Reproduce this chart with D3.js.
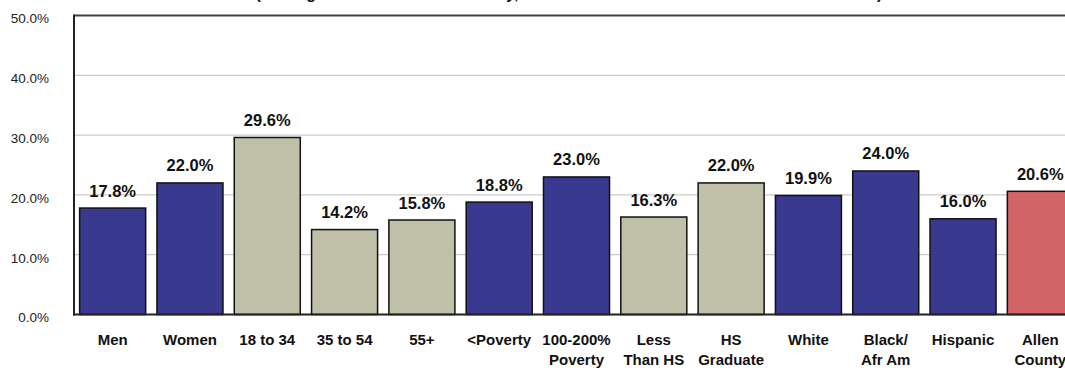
<!DOCTYPE html>
<html>
<head>
<meta charset="utf-8">
<script src="https://cdn.jsdelivr.net/npm/d3@7"></script>
<style>
  html, body { margin: 0; padding: 0; background: #fff; overflow: hidden; }
  svg { display: block; font-family: Arial, "Liberation Sans", sans-serif; }
</style>
</head>
<body>
<svg id="chart" width="1065" height="368"></svg>
<script>
// ---- Data ----
const categories = [
  ["Men"], ["Women"], ["18 to 34"], ["35 to 54"], ["55+"], ["<Poverty"],
  ["100-200%", "Poverty"], ["Less", "Than HS"], ["HS", "Graduate"], ["White"],
  ["Black/", "Afr Am"], ["Hispanic"], ["Allen", "County"]
];
const values = [17.8, 22.0, 29.6, 14.2, 15.8, 18.8, 23.0, 16.3, 22.0, 19.9, 24.0, 16.0, 20.6];
const groups = ["blue", "blue", "tan", "tan", "tan", "blue", "blue", "tan", "tan", "blue", "blue", "blue", "red"];
const yTicks = [0, 10, 20, 30, 40, 50];
const titleText = "(Among All Adults in Allen County, Based on the 2013 Health Assessment Results)";

const colors = { blue: "#393990", tan: "#C0C0A8", red: "#D26466" };

// ---- Layout ----
const svg = d3.select("#chart");
const keys = categories.map(c => c.join(" "));

const x = d3.scaleBand()
  .domain(keys)
  .range([74, 1079])
  .paddingInner(0.146)
  .paddingOuter(0.073);

const y = d3.scaleLinear().domain([0, 50]).range([314.5, 15.5]);

// Title (mostly clipped at the top edge, as in the reference)
svg.append("text")
  .attr("x", 569).attr("y", -1.5)
  .attr("text-anchor", "middle")
  .attr("font-size", 16).attr("font-weight", "bold")
  .attr("fill", "#111")
  .text(titleText);

// Gridlines
svg.append("g")
  .selectAll("line")
  .data(yTicks.filter(t => t > 0 && t < 50))
  .join("line")
  .attr("x1", 74).attr("x2", 1065)
  .attr("y1", d => y(d)).attr("y2", d => y(d))
  .attr("stroke", "#BFBFBF").attr("stroke-width", 1);

// Top border
svg.append("line")
  .attr("x1", 74).attr("x2", 1065)
  .attr("y1", y(50)).attr("y2", y(50))
  .attr("stroke", "#404040").attr("stroke-width", 2);

// Y axis labels
const yAxis = d3.axisLeft(y).tickValues(yTicks)
  .tickFormat(d => d.toFixed(1) + "%").tickSize(0).tickPadding(25);
const ya = svg.append("g").attr("transform", "translate(74,0)").call(yAxis);
ya.select(".domain").remove();
ya.selectAll("text")
  .attr("font-family", "Arial, 'Liberation Sans', sans-serif")
  .attr("font-size", 13.5).attr("fill", "#222")
  .attr("dy", "0.55em");

// Bars
svg.append("g")
  .selectAll("rect")
  .data(values)
  .join("rect")
  .attr("x", (d, i) => x(keys[i]))
  .attr("y", d => y(d))
  .attr("width", x.bandwidth())
  .attr("height", d => y(0) - y(d))
  .attr("fill", (d, i) => colors[groups[i]])
  .attr("stroke", "#111").attr("stroke-width", 1.5);

// Value labels
svg.append("g")
  .selectAll("text")
  .data(values)
  .join("text")
  .attr("x", (d, i) => x(keys[i]) + x.bandwidth() / 2)
  .attr("y", d => y(d) - 11.5)
  .attr("text-anchor", "middle")
  .attr("font-size", 16.5).attr("font-weight", "bold")
  .attr("fill", "#111")
  .text(d => d.toFixed(1) + "%");

// Axes lines
svg.append("line")
  .attr("x1", 74).attr("x2", 74)
  .attr("y1", y(50) - 1).attr("y2", y(0) + 1)
  .attr("stroke", "#222").attr("stroke-width", 2);
svg.append("line")
  .attr("x1", 73).attr("x2", 1065)
  .attr("y1", y(0)).attr("y2", y(0))
  .attr("stroke", "#222").attr("stroke-width", 2);

// Category labels
const cat = svg.append("g")
  .selectAll("text")
  .data(categories)
  .join("text")
  .attr("x", (d, i) => x(keys[i]) + x.bandwidth() / 2)
  .attr("y", 344.5)
  .attr("text-anchor", "middle")
  .attr("font-size", 15).attr("font-weight", "bold")
  .attr("fill", "#111");
cat.selectAll("tspan")
  .data(d => d)
  .join("tspan")
  .attr("x", function () { return d3.select(this.parentNode).attr("x"); })
  .attr("dy", (d, j) => j === 0 ? 0 : 20.5)
  .text(d => d);
</script>
</body>
</html>
